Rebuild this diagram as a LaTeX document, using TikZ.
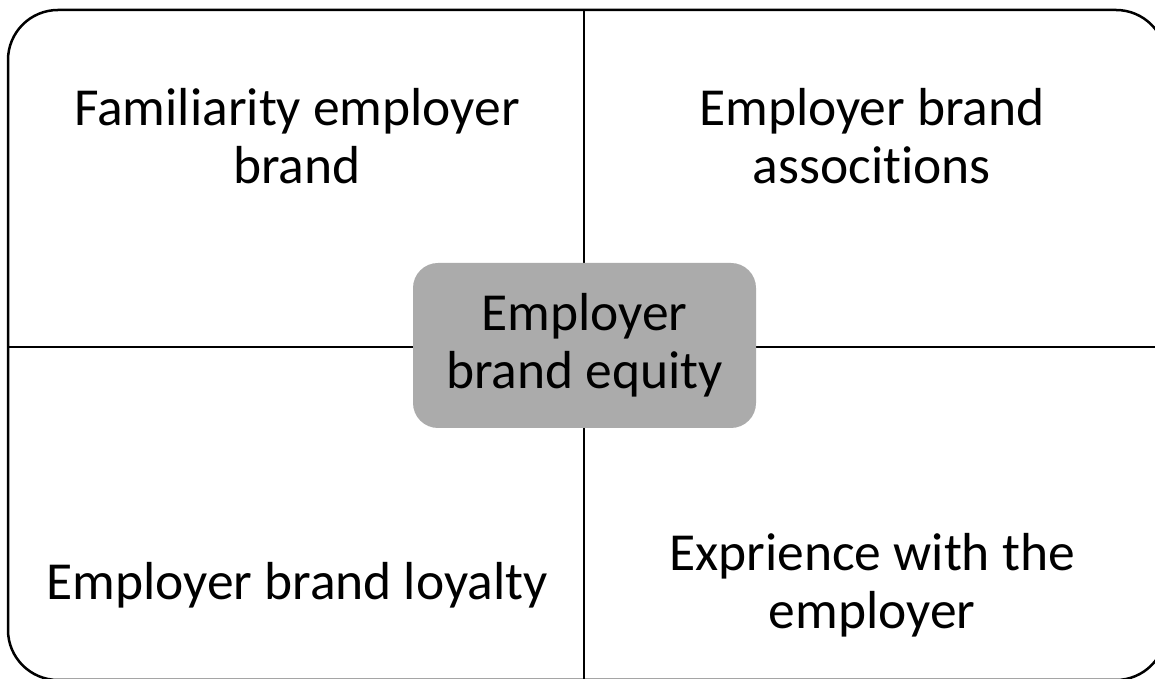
\documentclass[tikz,border=0pt]{standalone}
\usepackage{fontspec}
\setmainfont[Ligatures=NoCommon]{Carlito}
\usepackage{xcolor}
\usetikzlibrary{positioning}
\definecolor{eqgray}{RGB}{171,171,171}
\tikzstyle{quad}=[align=center,inner sep=0pt,font=\fontsize{53.5}{58}\selectfont]

\begin{document}
\begin{tikzpicture}[x=1pt, y=1pt, line width=1.8pt, box/.style = {fill=eqgray, rounded corners=25pt, minimum width=343pt, minimum height=165pt}]
	\useasboundingbox (0,0) rectangle (1155,679);
	\draw[line width=2.5pt, rounded corners=50pt] (8,-1) rectangle (1166,669);
	\coordinate (top) at (584,669);
	\coordinate (bottom) at (584,-1);
	\coordinate (left) at (8,332);
	\coordinate (right) at (1166,332);
	\draw (top) -- (bottom);
	\draw (left) -- (right);
	\node[box, quad] (equity) at (584.5,333.5) {Employer\\brand equity};
	\node[quad] (familiarity) at (297,543) {Familiarity employer\\brand};
	\node[quad] (assoc) at (872,543) {Employer brand\\associtions};
	\node[quad] (loyalty) at (297,94) {Employer brand loyalty};
	\node[quad] (exper) at (872,94) {Exprience with the\\employer};
\end{tikzpicture}
\end{document}
